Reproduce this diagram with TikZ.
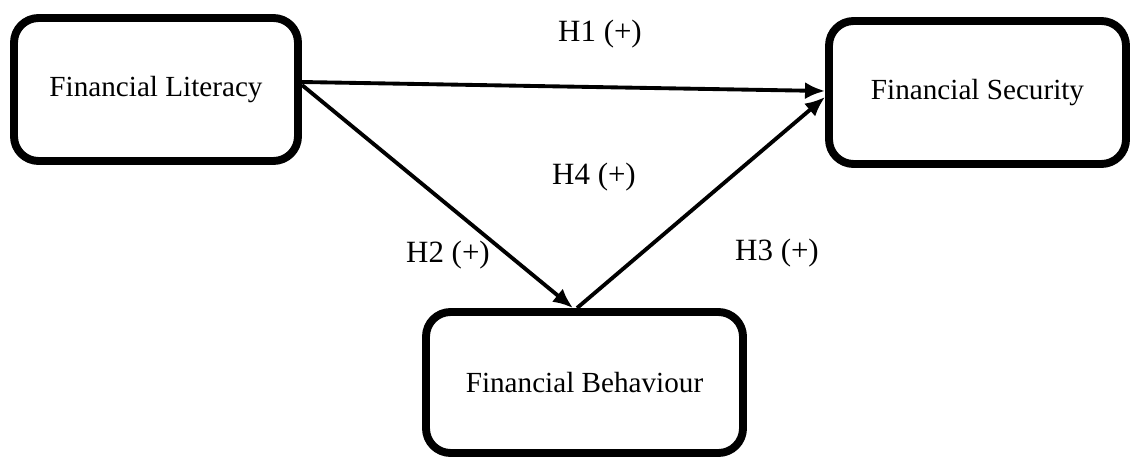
\documentclass[tikz,border=0pt]{standalone}
\usepackage{fontspec}
\setmainfont{Liberation Serif}
\usetikzlibrary{arrows.meta}

\begin{document}
\begin{tikzpicture}[every node/.style={font=\fontsize{16.6}{20}\selectfont}, >={Latex[length=4mm,width=3.4mm]},
	varbox/.style={draw, line width=4.5pt, rounded corners=14pt, minimum height=2.86cm, inner sep=0pt},
	hyp/.style={font=\fontsize{17.6}{21}\selectfont},
	link/.style={->, line width=2.2pt}]
	\useasboundingbox (0,0) rectangle (22.64,9.14);
	\node[varbox, minimum width=5.68cm] (lit) at (3.12,7.35) {Financial Literacy};
	\node[varbox, minimum width=5.94cm] (sec) at (19.55,7.29) {Financial Security};
	\node[varbox, minimum width=6.34cm, minimum height=2.82cm] (beh) at (11.69,1.49) {Financial Behaviour};
	\draw[link] ([yshift=1.5mm]lit.east) -- ([yshift=0.3mm]sec.west);
	\draw[link] ([yshift=0.9mm]lit.east) -- ([xshift=-2.3mm]beh.north);
	\draw[link] ([xshift=-1.5mm]beh.north) -- ([yshift=-0.9mm]sec.west);
	\node[hyp] (h1) at (12.0,8.46) {H1 (+)};
	\node[hyp] (h4) at (11.88,5.6) {H4 (+)};
	\node[hyp] (h2) at (8.96,4.04) {H2 (+)};
	\node[hyp] (h3) at (15.54,4.08) {H3 (+)};
\end{tikzpicture}
\end{document}
